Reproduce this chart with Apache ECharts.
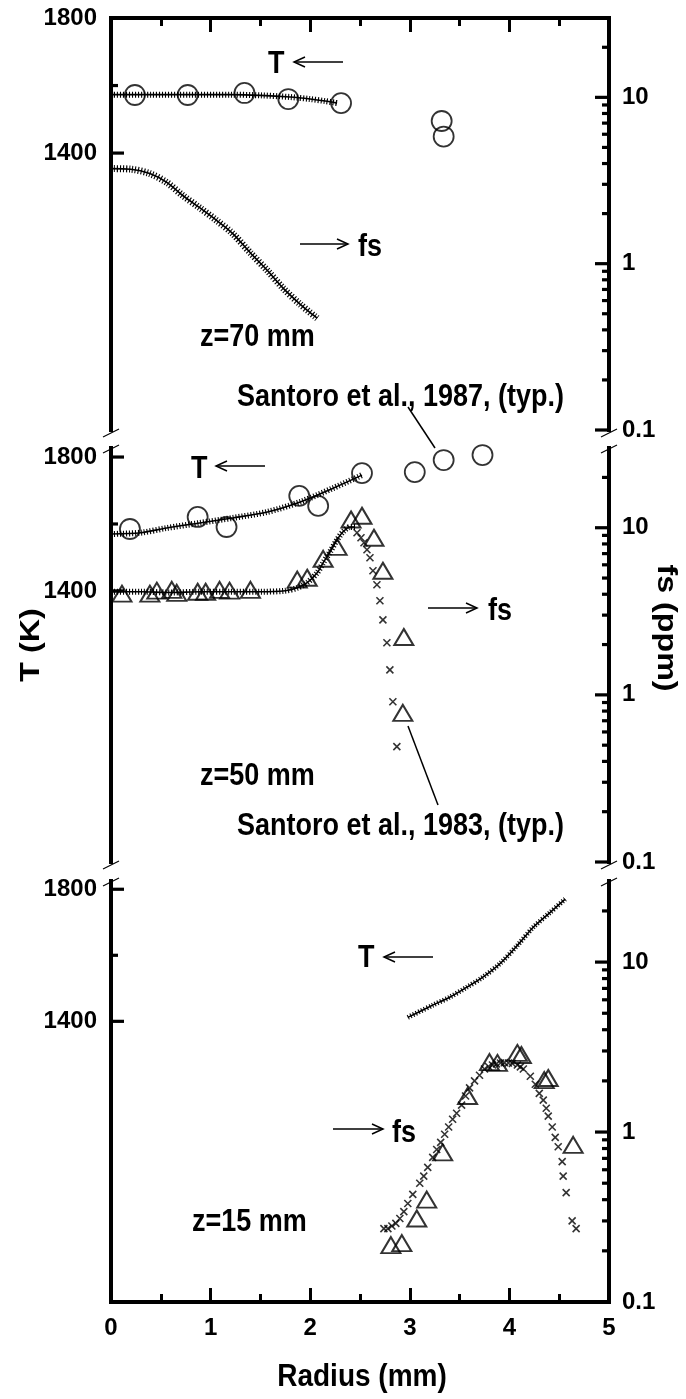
<!DOCTYPE html>
<html>
<head>
<meta charset="utf-8">
<script src="https://cdn.jsdelivr.net/npm/echarts@6/dist/echarts.min.js"></script>
<style>
  html, body { margin: 0; padding: 0; background: #fff; }
  #chart { width: 686px; height: 1399px; }
</style>
</head>
<body>
<div id="chart"></div>
<script>
// ---------- data: [radius (mm), value] ----------
// z = 70 mm
const t70Model = [[0, 1573], [0.4, 1573], [0.8, 1573], [1.2, 1573], [1.5, 1571], [1.8, 1566], [2.0, 1560], [2.15, 1554], [2.27, 1548]];
const t70Meas = [[0.24, 1572], [0.77, 1572], [1.34, 1578], [1.78, 1560], [2.31, 1548], [3.32, 1495], [3.34, 1449]];
const fs70Model = [[0, 3.73], [0.2, 3.70], [0.39, 3.48], [0.56, 3.08], [0.72, 2.57], [0.89, 2.17], [1.06, 1.82], [1.22, 1.52], [1.40, 1.16], [1.57, 0.91], [1.73, 0.71], [1.90, 0.57], [2.07, 0.47]];

// z = 50 mm
const t50Model = [[0, 1570], [0.3, 1574], [0.56, 1588], [0.89, 1603], [1.22, 1618], [1.57, 1636], [1.90, 1666], [2.23, 1707], [2.52, 1746]];
const t50Meas = [[0.19, 1585], [0.87, 1621], [1.16, 1591], [1.89, 1684], [2.08, 1654], [2.52, 1752], [3.05, 1755], [3.34, 1791], [3.73, 1806]];
const fs50Model = [[0, 4.14], [0.3, 4.14], [0.6, 4.10], [0.9, 4.14], [1.2, 4.14], [1.5, 4.14], [1.75, 4.20], [1.87, 4.37], [1.97, 4.69], [2.07, 5.38], [2.13, 6.17], [2.20, 7.18], [2.27, 8.47], [2.33, 9.46], [2.40, 10.1], [2.45, 10.1]];
const fs50Tail = [[2.47, 9.33], [2.51, 8.71], [2.54, 8.13], [2.57, 7.38], [2.60, 6.61], [2.63, 5.53], [2.67, 4.56], [2.70, 3.66], [2.73, 2.81], [2.77, 2.05], [2.80, 1.41], [2.83, 0.91], [2.87, 0.49]];
const fs50Meas = [[0.11, 4.03], [0.39, 4.03], [0.46, 4.20], [0.61, 4.25], [0.66, 4.08], [0.87, 4.14], [0.95, 4.14], [1.09, 4.25], [1.19, 4.20], [1.40, 4.25], [1.87, 4.89], [1.97, 5.02], [2.13, 6.52], [2.27, 7.69], [2.41, 11.2], [2.52, 11.8], [2.64, 8.71], [2.73, 5.53], [2.94, 2.22], [2.93, 0.78]];

// z = 15 mm
const t15Model = [[2.98, 1412], [3.23, 1449], [3.40, 1473], [3.57, 1503], [3.73, 1533], [3.91, 1576], [4.08, 1630], [4.24, 1685], [4.41, 1730], [4.56, 1770]];
const fs15Model = [[2.74, 0.27], [2.78, 0.27], [2.82, 0.28], [2.86, 0.29], [2.90, 0.31], [2.94, 0.34], [2.98, 0.38], [3.03, 0.43], [3.10, 0.50], [3.14, 0.55], [3.18, 0.62], [3.23, 0.71], [3.27, 0.79], [3.31, 0.87], [3.35, 0.97], [3.39, 1.07], [3.43, 1.19], [3.47, 1.29], [3.52, 1.44], [3.56, 1.63], [3.60, 1.82], [3.65, 2.00], [3.70, 2.16], [3.75, 2.35], [3.79, 2.43], [3.83, 2.48], [3.87, 2.52], [3.91, 2.55], [3.95, 2.56], [3.99, 2.55], [4.03, 2.53], [4.08, 2.48], [4.11, 2.42], [4.14, 2.35], [4.21, 2.13], [4.26, 1.91], [4.30, 1.69], [4.34, 1.54], [4.37, 1.38], [4.39, 1.24], [4.43, 1.07], [4.46, 0.93], [4.49, 0.82], [4.53, 0.67], [4.54, 0.55], [4.57, 0.44], [4.63, 0.30], [4.67, 0.27]];
const fs15Meas = [[2.81, 0.216], [2.92, 0.222], [3.07, 0.31], [3.17, 0.40], [3.33, 0.76], [3.58, 1.63], [3.80, 2.58], [3.88, 2.55], [4.08, 2.92], [4.12, 2.84], [4.35, 2.02], [4.39, 2.08], [4.64, 0.84]];

// ---------- axis ticks ----------
const radiusTicks = [0, 1, 2, 3, 4, 5];
const tLabels = [1400, 1800];
const tMinor = [1600];
const fsLabels = [0.1, 1, 10];
const fsMinor = [0.2, 0.3, 0.4, 0.5, 0.6, 0.7, 0.8, 0.9, 2, 3, 4, 5, 6, 7, 8, 9, 20];

// ---------- layout ----------
const FONT = '"Liberation Sans", Arial, Helvetica, sans-serif';
const PLOT_L = 111, PLOT_R = 609;
const STRETCH = 1.15;   // lettering is drawn slightly tall
const panels = [
  { top: 18,  height: 412, tMin: 580, tMax: 1800, tStep: 20 },
  { top: 448, height: 414, tMin: 590, tMax: 1827, tStep: 10 },
  { top: 881, height: 421, tMin: 550, tMax: 1825, tStep: 10 }
];

const axisLine = { show: true, onZero: false, lineStyle: { color: '#000', width: 4, cap: 'square' } };
const tickFont = { color: '#000', fontFamily: FONT, fontWeight: 'bold', fontSize: 24 };

const grid = panels.map(p => ({ left: PLOT_L, width: PLOT_R - PLOT_L, top: p.top, height: p.height }));

const xAxis = panels.map((p, i) => {
  const base = {
    gridIndex: i, type: 'value', min: 0, max: 5, interval: 1,
    axisLine: axisLine,
    axisTick: { show: true, inside: true, length: 14, lineStyle: { color: '#000', width: 3 } },
    minorTick: { show: true, splitNumber: 2, length: 8, lineStyle: { color: '#000', width: 3 } },
    splitLine: { show: false },
    axisLabel: { show: false }
  };
  if (i === 0) return Object.assign(base, { position: 'top' });
  if (i === 1) return Object.assign(base, { show: false });
  return Object.assign(base, {
    position: 'bottom',
    axisLabel: Object.assign({ show: true, margin: 14,
      formatter: v => radiusTicks.includes(Math.round(v * 1000) / 1000) ? String(v) : '' }, tickFont)
  });
});

const yAxis = [];
panels.forEach((p, i) => {
  yAxis.push({
    gridIndex: i, type: 'value', position: 'left', min: p.tMin, max: p.tMax, interval: p.tStep,
    axisLine: axisLine, axisTick: { show: false }, splitLine: { show: false },
    axisLabel: Object.assign({ margin: 14,
      formatter: v => tLabels.includes(Math.round(v)) ? String(Math.round(v)) : '' }, tickFont)
  });
  yAxis.push({
    gridIndex: i, type: 'log', logBase: 10, position: 'right', min: 0.1, max: 30,
    axisLine: axisLine, axisTick: { show: false }, minorTick: { show: false }, splitLine: { show: false },
    axisLabel: Object.assign({ margin: 13,
      formatter: v => {
        const hit = fsLabels.find(t => Math.abs(Math.log10(v) - Math.log10(t)) < 1e-6);
        return hit === undefined ? '' : String(hit);
      } }, tickFont)
  });
});

// inward tick marks drawn at the given axis values
function ticks(panel, right, values, len) {
  return {
    type: 'custom', xAxisIndex: panel, yAxisIndex: panel * 2 + (right ? 1 : 0),
    silent: true, clip: false, z: 6,
    data: values.map(v => [right ? 5 : 0, v]),
    renderItem: (params, api) => {
      const p = api.coord([api.value(0), api.value(1)]);
      const d = right ? -len : len;
      return { type: 'line', shape: { x1: p[0], y1: p[1], x2: p[0] + d, y2: p[1] },
               style: { stroke: '#000', lineWidth: 3.2 } };
    }
  };
}

// model profile: thin core line plus dense cross hatching
function hatched(panel, right, data, w) {
  const common = { type: 'line', xAxisIndex: panel, yAxisIndex: panel * 2 + (right ? 1 : 0),
                   data: data, smooth: 0.3, showSymbol: false, silent: true, z: 3 };
  return [
    Object.assign({}, common, { lineStyle: { color: '#000', width: 1.6 } }),
    Object.assign({}, common, { lineStyle: { color: '#000', width: w, type: [1.1, 1.9], cap: 'butt' } })
  ];
}

const XMARK = 'path://M0,0L10,10M10,0L0,10';
function crosses(panel, data) {
  return { type: 'scatter', xAxisIndex: panel, yAxisIndex: panel * 2 + 1, data: data,
           symbol: XMARK, symbolSize: 7, silent: true, z: 4,
           itemStyle: { color: 'rgba(0,0,0,0)', borderColor: '#000', borderWidth: 1.6 } };
}
function circles(panel, data) {
  return { type: 'scatter', xAxisIndex: panel, yAxisIndex: panel * 2, data: data,
           symbol: 'circle', symbolSize: 20, silent: true, z: 5,
           itemStyle: { color: 'rgba(0,0,0,0)', borderColor: '#000', borderWidth: 1.8 } };
}
function triangles(panel, data) {
  return { type: 'scatter', xAxisIndex: panel, yAxisIndex: panel * 2 + 1, data: data,
           symbol: 'triangle', symbolSize: [19, 16], silent: true, z: 5,
           itemStyle: { color: 'rgba(0,0,0,0)', borderColor: '#000', borderWidth: 2 } };
}

const series = [].concat(
  hatched(0, false, t70Model, 6),
  hatched(0, true, fs70Model, 7),
  [circles(0, t70Meas)],
  hatched(1, false, t50Model, 6),
  hatched(1, true, fs50Model, 6),
  [crosses(1, fs50Tail), circles(1, t50Meas), triangles(1, fs50Meas)],
  hatched(2, false, t15Model, 5),
  [crosses(2, fs15Model), triangles(2, fs15Meas)]
);
panels.forEach((p, i) => {
  series.push(ticks(i, false, tLabels, 13), ticks(i, false, tMinor, 7),
              ticks(i, true, fsLabels, 14), ticks(i, true, fsMinor, 7));
});

// ---------- annotations ----------
const annFont = 'bold 27px ' + FONT;
function label(text, x, y, align, font) {
  return { type: 'text', x: x, y: y, scaleY: STRETCH, silent: true, z: 10,
           style: { text: text, x: 0, y: 0, font: font || annFont, fill: '#000',
                    textAlign: align || 'left', textVerticalAlign: 'middle' } };
}
function seg(x1, y1, x2, y2, w) {
  return { type: 'line', silent: true, z: 10, shape: { x1, y1, x2, y2 }, style: { stroke: '#000', lineWidth: w || 1.5 } };
}
function arrow(xFrom, xTo, y) {
  const dir = xTo > xFrom ? 1 : -1;
  return [
    seg(xFrom, y, xTo, y),
    { type: 'polyline', silent: true, z: 10,
      shape: { points: [[xTo - dir * 11, y - 5], [xTo, y], [xTo - dir * 11, y + 5]] },
      style: { stroke: '#000', lineWidth: 1.5, fill: 'none' } }
  ];
}
function breakMarks(yUpper, yLower) {
  const out = [];
  [PLOT_L, PLOT_R].forEach(x => {
    [yUpper, yLower].forEach(y => out.push(seg(x - 8, y + 4, x + 8, y - 4, 1.2)));
  });
  return out;
}
function vtitle(text, x, y, rot) {
  return { type: 'text', x: x, y: y, rotation: rot, scaleX: STRETCH, silent: true, z: 10,
           style: { text: text, x: 0, y: 0, font: 'bold 28px ' + FONT, fill: '#000',
                    textAlign: 'center', textVerticalAlign: 'middle' } };
}

const graphic = [].concat(
  [label('T', 268, 64)], arrow(343, 294, 62),
  arrow(300, 348, 244), [label('fs', 358, 247)],
  [label('z=70 mm', 200, 337)],
  [label('Santoro et al., 1987, (typ.)', 237, 397)], [seg(408, 407, 435, 448)],
  [label('T', 191, 469)], arrow(265, 216, 466),
  arrow(428, 477, 608), [label('fs', 488, 611)],
  [label('z=50 mm', 200, 776)],
  [label('Santoro et al., 1983, (typ.)', 237, 826)], [seg(408, 726, 438, 805)],
  [label('T', 358, 958)], arrow(433, 384, 957),
  arrow(333, 383, 1129), [label('fs', 392, 1133)],
  [label('z=15 mm', 192, 1222)],
  breakMarks(433, 449), breakMarks(865, 882),
  [label('Radius (mm)', 362, 1377, 'center', 'bold 28px ' + FONT)],
  [vtitle('T (K)', 31, 645, Math.PI / 2), vtitle('fs (ppm)', 666, 628, -Math.PI / 2)]
);

const chart = echarts.init(document.getElementById('chart'), null, { renderer: 'canvas' });
chart.setOption({
  animation: false,
  backgroundColor: '#fff',
  grid: grid,
  xAxis: xAxis,
  yAxis: yAxis,
  series: series,
  graphic: graphic
});
</script>
</body>
</html>
